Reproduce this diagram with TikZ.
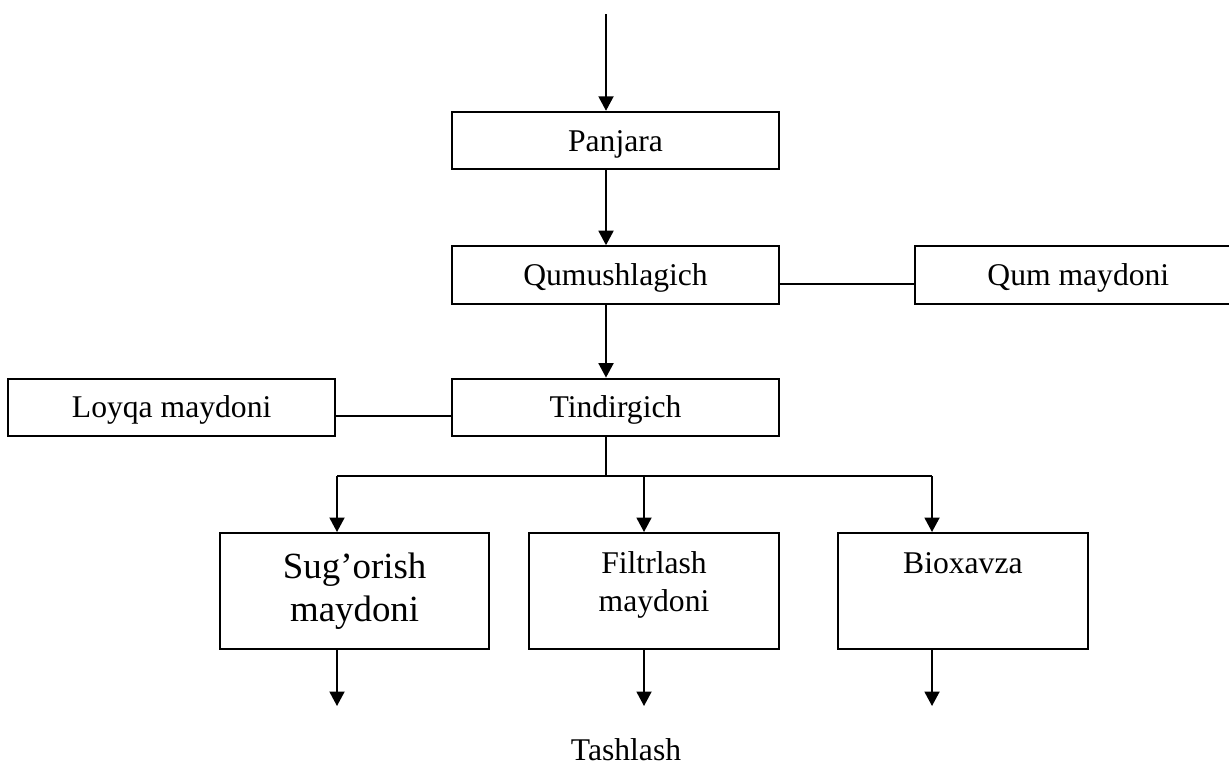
\documentclass[tikz,border=0pt]{standalone}
\usepackage{fontspec}
\setmainfont{Liberation Serif}
\usetikzlibrary{positioning,arrows.meta}

\begin{document}
\begin{tikzpicture}[x=0.02cm, y=-0.02cm,
  font=\fontsize{18}{21.5}\selectfont,
  line width=1.1pt, >={Triangle[width=0.3cm,length=0.29cm]},
  block/.style = {shape=rectangle, draw, align=center,
    minimum width=6.54cm, minimum height=1.15cm,
    text height=0.42cm, text depth=0pt},
  tank/.style = {shape=rectangle, draw, inner sep=0pt, align=center,
    text width=5cm, text height=0.82cm, text depth=1.5cm}]
    \useasboundingbox (0,0) rectangle (1229,765);
    \node[block] (panjara) at (615.5,140.5) {Panjara};
    \node[block, below=1.5cm of panjara] (qumush) {Qumushlagich};
    \node[block, right=2.68cm of qumush] (qum) {Qum maydoni};
    \node[block, below=1.46cm of qumush] (tindir) {Tindirgich};
    \node[block, left=2.3cm of tindir] (loyqa) {Loyqa maydoni};
    \node[tank, below=1.9cm of tindir.south east, anchor=north east] (filtr) {Filtrlash\\maydoni};
    \node[tank, left=0.76cm of filtr, text width=5.38cm,
      text height=0.92cm, text depth=1.4cm,
      font=\fontsize{21}{24.4}\selectfont] (sug) {Sug’orish\\maydoni};
    \node[tank, right=1.14cm of filtr] (bio) {Bioxavza};
    \node[text height=0.42cm, text depth=0pt] (drain) at (626,750) {Tashlash};
    % inflow and branch points
    \coordinate (inlet) at (606,14);
    \coordinate (fork) at (606,476);
    \coordinate (a1) at (337,476);
    \coordinate (a2) at (644,476);
    \coordinate (a3) at (932,476);
    \coordinate (out) at (606,706);
    \draw[->] (inlet) -- (inlet |- panjara.north);
    \draw[->] (panjara.south -| inlet) -- (qumush.north -| inlet);
    \draw[->] (qumush.south -| inlet) -- (tindir.north -| inlet);
    \draw ([yshift=-0.19cm]qumush.east) -- ([yshift=-0.19cm]qum.west);
    \draw ([yshift=-0.18cm]loyqa.east) -- ([yshift=-0.18cm]tindir.west);
    \draw[line width=0.6pt] (tindir.south -| fork) -- (fork);
    \draw (a1) -- (a3);
    \foreach \x/\n in {a1/sug, a2/filtr, a3/bio} {
      \draw[->] (\x) -- (\x |- \n.north);
      \draw[->] (\n.south -| \x) -- (\x |- out);
    }
\end{tikzpicture}
\end{document}
